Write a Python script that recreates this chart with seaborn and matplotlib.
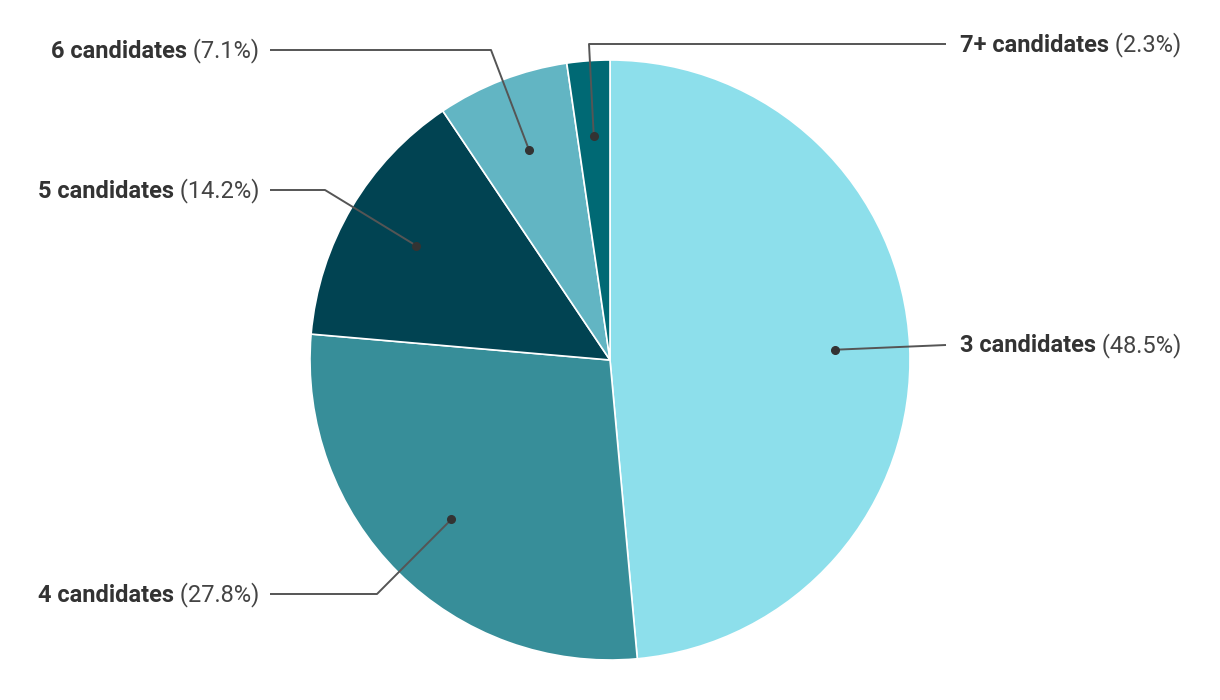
import numpy as np
import matplotlib
matplotlib.use("Agg")
import matplotlib.pyplot as plt
import seaborn as sns

categories = ["3 candidates", "4 candidates", "5 candidates", "6 candidates", "7+ candidates"]
shares = [48.5, 27.8, 14.2, 7.1, 2.3]

colors = ["#8ddfeb", "#378e99", "#014352", "#62b5c3", "#006974"]

sns.set_theme(style="white")
plt.rcParams['font.family'] = ['Roboto', 'DejaVu Sans']

W, H = 1220, 700
fig = plt.figure(figsize=(W / 100, H / 100), dpi=100)
ax = fig.add_axes([0, 0, 1, 1])

cx, cy, R = 610, H - 360, 300
wedges, _ = ax.pie(shares, colors=colors, startangle=90, counterclock=False,
                   center=(cx, cy), radius=R,
                   wedgeprops=dict(edgecolor="white", linewidth=1.2))
ax.set_xlim(0, W)
ax.set_ylim(0, H)
ax.set_aspect("equal")
ax.axis("off")

# label layout (pixel positions from top-left): elbow x, label/line y, side
layout = {
    "3 candidates": dict(elbow_x=None, y=345, side="right"),
    "4 candidates": dict(elbow_x=377, y=594, side="left"),
    "5 candidates": dict(elbow_x=325, y=190, side="left"),
    "6 candidates": dict(elbow_x=491, y=50, side="left"),
    "7+ candidates": dict(elbow_x=589, y=44, side="right"),
}
line_end = {"left": 270, "right": 946}
text_x = {"left": 259, "right": 960}
text_dy = 1

fs = 17
fig.canvas.draw()
renderer = fig.canvas.get_renderer()
for w, cat, val in zip(wedges, categories, shares):
    mid = np.deg2rad((w.theta1 + w.theta2) / 2)
    dx, dy = cx + 0.75 * R * np.cos(mid), cy + 0.75 * R * np.sin(mid)
    L = layout[cat]
    ly = H - L["y"]
    xs, ys = [dx], [dy]
    if L["elbow_x"] is not None:
        xs.append(L["elbow_x"]); ys.append(ly)
    xs.append(line_end[L["side"]]); ys.append(ly)
    ax.plot(xs, ys, color="#555555", lw=1.4, solid_capstyle="butt", zorder=3)
    ax.plot([dx], [dy], "o", color="#333333", ms=5.5, zorder=4)
    pct = f" ({val}%)"
    ty = ly - text_dy
    if L["side"] == "right":
        t1 = ax.text(text_x["right"], ty, cat, fontsize=fs, fontweight="bold",
                     color="#333333", ha="left", va="center")
        bb = t1.get_window_extent(renderer)
        ax.text(bb.x1, ty, pct, fontsize=fs, color="#444444", ha="left", va="center")
    else:
        t2 = ax.text(text_x["left"], ty, pct, fontsize=fs, color="#444444",
                     ha="right", va="center")
        bb = t2.get_window_extent(renderer)
        ax.text(bb.x0, ty, cat, fontsize=fs, fontweight="bold",
                color="#333333", ha="right", va="center")

fig.savefig("out.png", dpi=100, facecolor="white")
